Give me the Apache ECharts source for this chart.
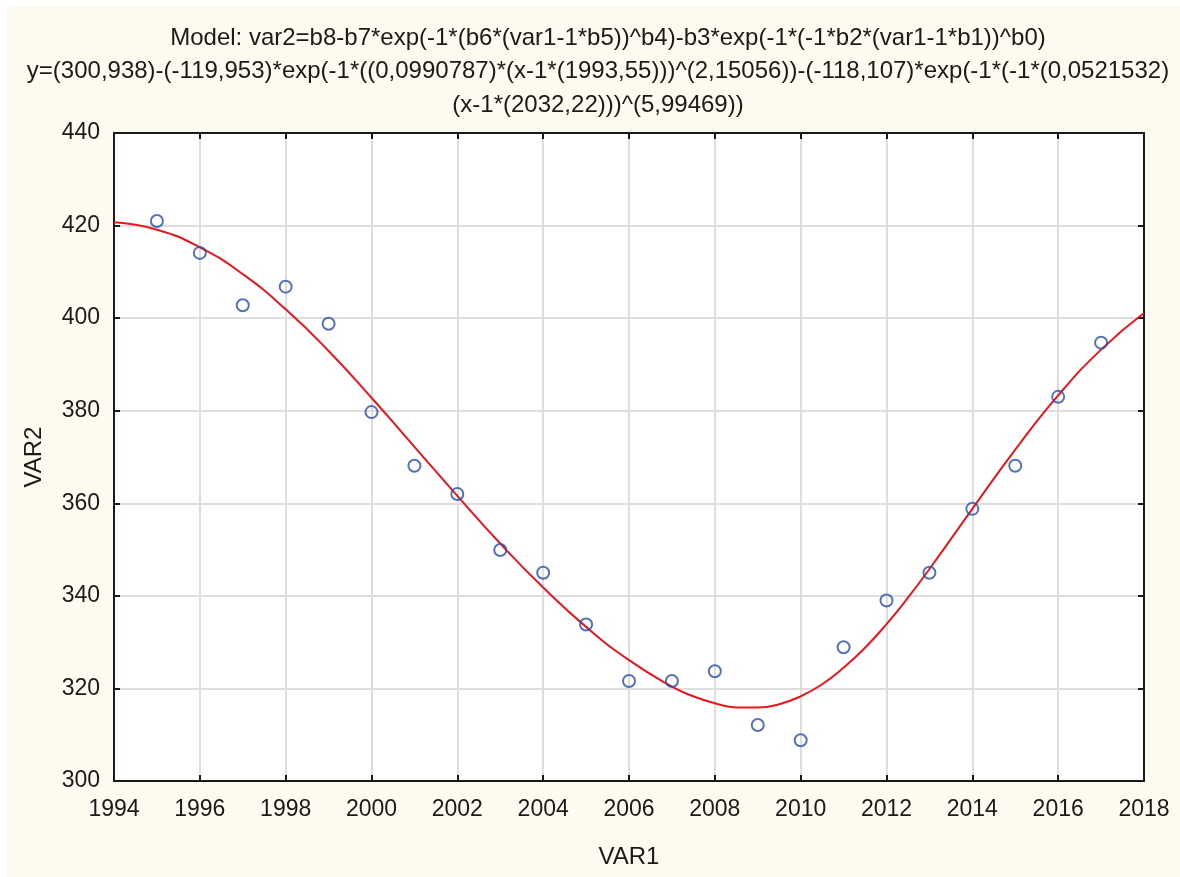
<!DOCTYPE html>
<html>
<head>
<meta charset="utf-8">
<script src="https://cdn.jsdelivr.net/npm/echarts@6/dist/echarts.min.js"></script>
<style>
html,body{margin:0;padding:0;background:#fff;}
#c{width:1180px;height:877px;}
</style>
</head>
<body>
<div id="c"></div>
<script>
// Observed data points
var years = [1995,1996,1997,1998,1999,2000,2001,2002,2003,2004,2005,2006,2007,2008,2009,2010,2011,2012,2013,2014,2015,2016,2017];
var var2 = [421,414.1,402.8,406.8,398.8,379.7,368.1,362.0,349.9,345.0,333.8,321.6,321.6,323.7,312.1,308.8,328.9,339.0,345.0,358.8,368.1,383.0,394.7];
// Fitted curve
var curveX = [1994,1995,1996,1997,1998,1999,2000,2001,2002,2003,2004,2005,2006,2007,2007.5,2008,2008.5,2009,2009.5,2010,2010.5,2011,2011.5,2012,2012.5,2013,2014,2015,2016,2017,2018];
var curveY = [420.7,419.1,415.3,409.5,401.9,392.9,382.8,372.2,361.6,351.3,341.8,333.3,326.1,320.4,318.3,316.8,315.9,315.9,316.6,318.3,320.9,324.5,328.8,333.9,339.6,345.8,358.8,371.6,383.3,393.2,401.1];
var xTicks = {min:1994, max:2018, step:2};
var yTicks = {min:300, max:440, step:20};
var titleLines = [
  'Model: var2=b8-b7*exp(-1*(b6*(var1-1*b5))^b4)-b3*exp(-1*(-1*b2*(var1-1*b1))^b0)',
  'y=(300,938)-(-119,953)*exp(-1*((0,0990787)*(x-1*(1993,55)))^(2,15056))-(-118,107)*exp(-1*(-1*(0,0521532)',
  '(x-1*(2032,22)))^(5,99469))'
];

var pts = years.map(function(y,i){return [y,var2[i]];});
var cpts = curveX.map(function(x,i){return [x,curveY[i]];});

var font = 'Liberation Sans, Arial, Helvetica, sans-serif';
var fs = 23;
var titleCx = [608, 598, 598];
var titleCy = [38.5, 71.8, 105];
var graphics = [{type:'rect', z:-10, silent:true, shape:{x:7,y:6,width:1173,height:871}, style:{fill:'#fdfaef'}}];
titleLines.forEach(function(t,i){
  graphics.push({type:'text', x:titleCx[i], y:titleCy[i], silent:true,
    style:{text:t, font:'24px ' + font, fill:'#1a1a1a', textAlign:'center', textVerticalAlign:'middle', align:'center', verticalAlign:'middle'}});
});

var chart = echarts.init(document.getElementById('c'));
var axisLine = {show:true, lineStyle:{color:'#1a1a1a', width:2}};
var tick = {show:true, inside:true, length:6, lineStyle:{color:'#1a1a1a', width:2}};
chart.setOption({
  backgroundColor:'#ffffff',
  animation:false,
  graphic:graphics,
  grid:{left:114, right:36, top:133, bottom:96, show:true, backgroundColor:'#ffffff', borderWidth:0},
  xAxis:[{
    type:'value', min:xTicks.min, max:xTicks.max, interval:xTicks.step,
    name:'VAR1', nameLocation:'middle', nameGap:64,
    nameTextStyle:{fontFamily:font, fontSize:24, color:'#1a1a1a'},
    axisLine:axisLine, axisTick:tick,
    axisLabel:{fontFamily:font, fontSize:fs, color:'#1a1a1a', margin:17, formatter:function(v){return String(v);}},
    splitLine:{show:true, lineStyle:{color:'#dedede', width:2}}
  },{
    type:'value', position:'top', min:xTicks.min, max:xTicks.max, interval:xTicks.step,
    axisLine:axisLine, axisTick:tick, axisLabel:{show:false}, splitLine:{show:false}
  }],
  yAxis:[{
    type:'value', min:yTicks.min, max:yTicks.max, interval:yTicks.step,
    name:'VAR2', nameLocation:'middle', nameGap:68, nameRotate:90,
    nameTextStyle:{fontFamily:font, fontSize:24, color:'#1a1a1a'},
    axisLine:axisLine, axisTick:tick,
    axisLabel:{fontFamily:font, fontSize:fs, color:'#1a1a1a', margin:14, formatter:function(v){return String(v);}},
    splitLine:{show:true, lineStyle:{color:'#dedede', width:2}}
  },{
    type:'value', position:'right', min:yTicks.min, max:yTicks.max, interval:yTicks.step,
    axisLine:axisLine, axisTick:tick, axisLabel:{show:false}, splitLine:{show:false}
  }],
  series:[{
    type:'line', data:cpts, smooth:0.5, showSymbol:false, symbol:'none',
    lineStyle:{color:'#e8161d', width:2}, z:3
  },{
    type:'scatter', data:pts, symbol:'circle', symbolSize:12,
    itemStyle:{color:'rgba(255,255,255,0)', borderColor:'#2b4ea6', borderWidth:2}, z:4
  }]
});
</script>
</body>
</html>
